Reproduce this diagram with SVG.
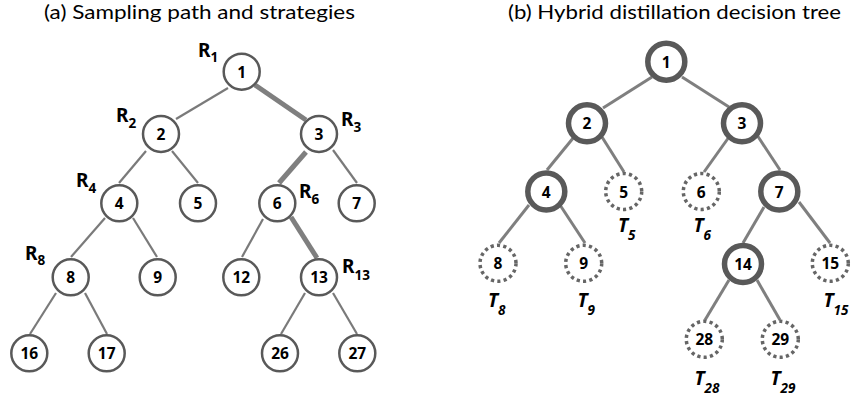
<svg xmlns="http://www.w3.org/2000/svg" width="854" height="400" viewBox="0 0 854 400">
<style>
.title{font-family:Lato,"Open Sans","Liberation Sans",sans-serif;font-size:19px;fill:#000}
.num{font-family:"Noto Sans","Liberation Sans",sans-serif;font-size:15.5px;font-weight:bold;fill:#000;text-anchor:middle;dominant-baseline:central}
.lab{font-family:"Noto Sans","Liberation Sans",sans-serif;font-size:19px;font-weight:bold;fill:#000}
.sub{font-size:13.5px}
.tl{font-family:"Noto Sans","Liberation Sans",sans-serif;font-size:19px;font-weight:bold;font-style:italic;fill:#000}
.n{fill:#fff;stroke:#595959;stroke-width:2.5}
.nb{fill:#fff;stroke:#595959;stroke-width:5.5}
.nd{fill:#fff;stroke:#666;stroke-width:3.5;stroke-dasharray:3.2 3.2}
.e{stroke:#7a7a7a;stroke-width:2.2;fill:none}
.et{stroke:#7f7f7f;stroke-width:5;fill:none}
.e2{stroke:#7f7f7f;stroke-width:3;fill:none}
</style>
<text class="title" x="44" y="19" textLength="311" lengthAdjust="spacingAndGlyphs">(a) Sampling path and strategies</text>
<text class="title" x="508" y="19" textLength="333" lengthAdjust="spacingAndGlyphs">(b) Hybrid distillation decision tree</text>
<g id="connectors">
<line class="e" x1="228" y1="88" x2="176" y2="119"/>
<line class="et" x1="255" y1="85" x2="306" y2="120"/>
<line class="e" x1="146" y1="151" x2="119" y2="183"/>
<line class="e" x1="172" y1="151" x2="198" y2="183"/>
<line class="et" x1="306" y1="152" x2="279" y2="183"/>
<line class="e" x1="333" y1="150" x2="357" y2="183"/>
<line class="e" x1="105" y1="218" x2="71" y2="257"/>
<line class="e" x1="133" y1="218" x2="157" y2="257"/>
<line class="e" x1="263" y1="219" x2="242" y2="257"/>
<line class="et" x1="291" y1="217" x2="317" y2="258"/>
<line class="e" x1="56" y1="293" x2="30" y2="334"/>
<line class="e" x1="85" y1="293" x2="107" y2="334"/>
<line class="e" x1="305" y1="293" x2="281" y2="334"/>
<line class="e" x1="333" y1="293" x2="357" y2="334"/>
<line class="e2" x1="652" y1="77" x2="603" y2="108"/>
<line class="e2" x1="682" y1="77" x2="729" y2="107"/>
<line class="e2" x1="574" y1="137" x2="547" y2="170"/>
<line class="e2" x1="602" y1="137" x2="624" y2="172"/>
<line class="e2" x1="729" y1="137" x2="704" y2="172"/>
<line class="e2" x1="757" y1="135" x2="780" y2="170"/>
<line class="e2" x1="529" y1="205" x2="499" y2="243"/>
<line class="e2" x1="560" y1="205" x2="585" y2="243"/>
<line class="e2" x1="764" y1="207" x2="743" y2="243"/>
<line class="e2" x1="799" y1="202" x2="830" y2="243"/>
<line class="e2" x1="729" y1="280" x2="705" y2="320"/>
<line class="e2" x1="757" y1="280" x2="780" y2="320"/>
</g>
<g id="a1"><circle class="n" cx="241.7" cy="71.7" r="18"/><text class="num" x="241.7" y="71.7">1</text><text class="lab" x="198" y="57">R<tspan class="sub" dy="5">1</tspan></text></g>
<g id="a2"><circle class="n" cx="161" cy="134" r="18"/><text class="num" x="161" y="134">2</text><text class="lab" x="116" y="122">R<tspan class="sub" dy="6">2</tspan></text></g>
<g id="a3"><circle class="n" cx="319" cy="134" r="18"/><text class="num" x="319" y="134">3</text><text class="lab" x="341" y="126">R<tspan class="sub" dy="6">3</tspan></text></g>
<g id="a4"><circle class="n" cx="119.3" cy="203.3" r="18"/><text class="num" x="119.3" y="203.3">4</text><text class="lab" x="76" y="187">R<tspan class="sub" dy="6">4</tspan></text></g>
<g id="a5"><circle class="n" cx="198" cy="203.3" r="18"/><text class="num" x="198" y="203.3">5</text></g>
<g id="a6"><circle class="n" cx="277.3" cy="203.3" r="18"/><text class="num" x="277.3" y="203.3">6</text><text class="lab" x="299" y="198">R<tspan class="sub" dy="6">6</tspan></text></g>
<g id="a7"><circle class="n" cx="356.7" cy="203.3" r="18"/><text class="num" x="356.7" y="203.3">7</text></g>
<g id="a8"><circle class="n" cx="70.7" cy="277.3" r="18"/><text class="num" x="70.7" y="277.3">8</text><text class="lab" x="25" y="260">R<tspan class="sub" dy="5">8</tspan></text></g>
<g id="a9"><circle class="n" cx="157.7" cy="277.3" r="18"/><text class="num" x="157.7" y="277.3">9</text></g>
<g id="a12"><circle class="n" cx="241.3" cy="277.3" r="18"/><text class="num" x="241.3" y="277.3">12</text></g>
<g id="a13"><circle class="n" cx="319" cy="277.3" r="18"/><text class="num" x="319" y="277.3">13</text><text class="lab" x="342" y="273">R<tspan class="sub" dy="7">13</tspan></text></g>
<g id="a16"><circle class="n" cx="29.3" cy="353.3" r="18"/><text class="num" x="29.3" y="353.3">16</text></g>
<g id="a17"><circle class="n" cx="106.7" cy="353.3" r="18"/><text class="num" x="106.7" y="353.3">17</text></g>
<g id="a26"><circle class="n" cx="280" cy="353.3" r="18"/><text class="num" x="280" y="353.3">26</text></g>
<g id="a27"><circle class="n" cx="357.3" cy="353.3" r="18"/><text class="num" x="357.3" y="353.3">27</text></g>
<g id="b1"><circle class="nb" cx="666.3" cy="61.7" r="18.5"/><text class="num" x="666.3" y="61.7">1</text></g>
<g id="b2"><circle class="nb" cx="587" cy="123.3" r="18.5"/><text class="num" x="587" y="123.3">2</text></g>
<g id="b3"><circle class="nb" cx="742" cy="123.3" r="18.5"/><text class="num" x="742" y="123.3">3</text></g>
<g id="b4"><circle class="nb" cx="546.3" cy="191.5" r="18.5"/><text class="num" x="546.3" y="191.5">4</text></g>
<g id="b5"><circle class="nd" cx="623.7" cy="191.5" r="18"/><text class="num" x="623.7" y="191.5">5</text><text class="tl" x="618" y="231.7">T<tspan class="sub" dy="8">5</tspan></text></g>
<g id="b6"><circle class="nd" cx="701.3" cy="191.5" r="18"/><text class="num" x="701.3" y="191.5">6</text><text class="tl" x="693.5" y="231.7">T<tspan class="sub" dy="8">6</tspan></text></g>
<g id="b7"><circle class="nb" cx="779.3" cy="191.5" r="18.5"/><text class="num" x="779.3" y="191.5">7</text></g>
<g id="b8"><circle class="nd" cx="498" cy="263.3" r="18"/><text class="num" x="498" y="263.3">8</text><text class="tl" x="488" y="306.7">T<tspan class="sub" dy="8">8</tspan></text></g>
<g id="b9"><circle class="nd" cx="583.7" cy="263.3" r="18"/><text class="num" x="583.7" y="263.3">9</text><text class="tl" x="577.5" y="306.7">T<tspan class="sub" dy="8">9</tspan></text></g>
<g id="b14"><circle class="nb" cx="743" cy="264" r="18.5"/><text class="num" x="743" y="264">14</text></g>
<g id="b15"><circle class="nd" cx="830.3" cy="263.3" r="18"/><text class="num" x="830.3" y="263.3">15</text><text class="tl" x="823.5" y="306.7">T<tspan class="sub" dy="8">15</tspan></text></g>
<g id="b28"><circle class="nd" cx="704.3" cy="339.3" r="18"/><text class="num" x="704.3" y="339.3">28</text><text class="tl" x="694.5" y="385">T<tspan class="sub" dy="8">28</tspan></text></g>
<g id="b29"><circle class="nd" cx="780.3" cy="339.3" r="18"/><text class="num" x="780.3" y="339.3">29</text><text class="tl" x="770.5" y="385">T<tspan class="sub" dy="8">29</tspan></text></g>
</svg>
